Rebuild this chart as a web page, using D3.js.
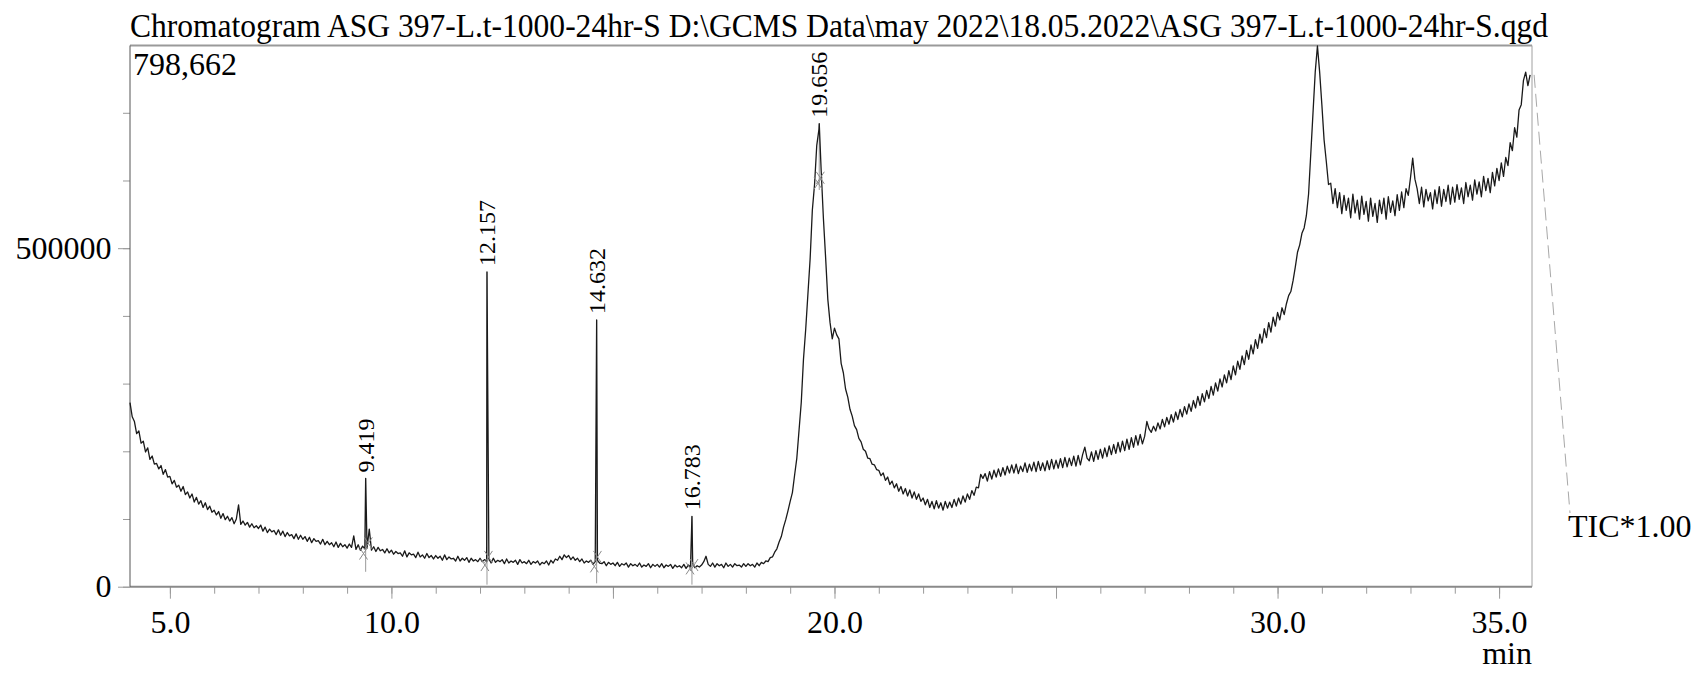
<!DOCTYPE html>
<html>
<head>
<meta charset="utf-8">
<script src="https://cdn.jsdelivr.net/npm/d3@7"></script>
<style>
  html, body { margin: 0; background: #fff; }
  svg { display: block; }
  text { font-family: "Liberation Serif", "Times New Roman", serif; fill: #000; }
</style>
</head>
<body>
<svg id="chart" width="1698" height="675"></svg>
<script>
// ---- Run information ----
const titleText = "Chromatogram ASG 397-L.t-1000-24hr-S D:\\GCMS Data\\may 2022\\18.05.2022\\ASG 397-L.t-1000-24hr-S.qgd";
const traceName = "TIC*1.00";
const xUnit = "min";

// ---- TIC trace: one reading per scan, in kilocounts ----
const scanStart = 4.10;   // min, first scan
const scanStep = 0.05;    // min between scans
const tic = [
  // 4.10 - 4.95
  272,251,244,226,230,212,215,199,205,188,193,181,182,174,179,166,173,162,
  // 5
  163,152,157,147,150,141,148,136,140,131,137,125,132,122,127,117,124,114,119,110,
  // 6
  113,106,111,101,108,99,104,97,102,93,100,121,92,97,91,95,88,93,87,90,
  // 7
  86,91,82,88,80,85,81,83,77,84,76,82,74,80,75,77,71,78,70,76,
  // 8
  70,74,67,73,65,71,67,68,63,70,62,67,62,65,59,66,58,64,59,62,
  // 9
  57,63,58,75,55,62,54,60,56,57,85,54,59,52,58,53,55,50,56,50,
  // 10
  54,48,52,49,50,45,53,44,50,47,48,43,51,44,47,42,49,43,46,41,
  // 11
  46,42,45,39,47,40,44,41,42,38,45,38,42,39,43,36,42,38,40,37,
  // 12
  42,37,40,38,41,35,42,36,39,37,40,34,41,35,38,36,39,33,40,35,
  // 13
  37,34,39,33,37,35,38,32,36,34,38,32,39,35,41,39,45,40,47,43,
  // 14
  46,40,44,39,42,37,41,35,38,36,39,33,37,39,35,34,37,31,36,33,
  // 15
  35,31,36,30,34,32,35,29,34,31,33,30,35,29,32,30,34,28,33,30,
  // 16
  33,29,34,28,32,30,33,27,32,29,31,28,33,27,32,29,33,28,31,29,
  // 17
  32,37,45,33,30,35,29,34,31,33,28,35,30,33,29,34,31,32,29,34,
  // 18
  30,34,31,33,29,35,31,36,34,38,37,43,44,51,56,66,74,88,99,112,
  // 19
  126,139,165,190,231,272,336,380,432,484,556,594,652,676,614,544,486,424,390,366,
  // 20
  382,372,366,330,316,292,280,262,252,238,232,219,214,203,200,190,189,181,180,173,
  // 21
  172,164,168,157,162,151,156,146,152,141,148,137,145,134,143,131,140,129,137,126,
  // 22
  131,121,129,117,126,115,127,116,124,113,126,116,125,117,129,119,131,122,134,125,
  // 23
  137,129,142,135,147,146,166,160,167,156,170,159,172,162,174,163,176,165,178,168,
  // 24
  180,168,181,167,178,170,183,169,181,171,184,170,185,172,183,171,186,173,188,174,
  // 25
  187,175,189,176,191,177,190,179,193,178,194,180,195,206,190,186,199,185,201,188,
  // 26
  203,190,205,192,208,195,210,197,213,199,215,201,218,203,220,206,223,209,225,211,
  // 27
  222,244,233,228,237,230,242,233,247,236,250,240,254,243,258,247,262,251,266,255,
  // 28
  270,259,275,264,281,268,285,273,290,278,296,283,301,289,307,295,313,301,319,306,
  // 29
  326,313,333,321,341,328,349,336,357,344,365,352,373,360,381,368,390,376,398,385,
  // 30
  405,394,412,402,418,430,436,452,472,494,505,522,530,548,580,640,700,760,798.662,760,
  // 31
  712,660,628,594,596,566,588,560,582,551,578,556,574,545,580,552,571,543,577,550,
  // 32
  569,540,574,547,566,538,571,551,574,543,576,553,570,548,579,556,583,560,588,578,
  // 33
  604,633,602,588,566,590,561,587,570,582,558,586,566,591,562,587,569,593,565,590,
  // 34
  568,594,572,589,566,597,576,593,571,601,580,598,576,606,585,603,582,612,592,618,
  // 35.00 - 35.70
  600,626,606,634,622,656,644,678,664,704,712,748,760,740,756
];

// ---- Identified peaks ----
const peakTimes = [9.419, 12.157, 14.632, 16.783, 19.656];   // min
const peakApex  = [160, 465, 394, 104, 684];                  // kilocounts
const peakDropTo = [22, 3, 5, 3, 586];                        // lower end of marker line, kilocounts
// integration start / end marks
const markStartT = [9.37, 12.11, 14.58, 16.74, 19.63];
const markStartV = [49, 32, 30, 27, 596];
const markEndT   = [9.48, 12.19, 14.65, 16.83, 19.68];
const markEndV   = [64, 44, 44, 32, 604];

// ---- Axis ticks ----
const xMinorTicks = d3.range(5, 36, 1);
const xMajorTicks = [5, 10, 15, 20, 25, 30, 35];
const xTickLabels = [5, 10, 20, 30, 35];
const yMinorTicks = [0, 100000, 200000, 300000, 400000, 500000, 600000, 700000];
const yTickLabels = [0, 500000];
const timeRange = [4.1, 35.72];

// ---- Build trace points (scans plus peak apexes) ----
const points = tic.map((v, i) => ({ t: scanStart + i * scanStep, v: v * 1000 }));
peakTimes.forEach((t, i) => points.push({ t, v: peakApex[i] * 1000 }));
points.sort((a, b) => a.t - b.t);
const maxCount = d3.max(points, d => d.v);

// ---- Layout ----
const svg = d3.select("#chart");
const plotL = 130, plotR = 1531, plotT = 45.5, plotB = 586.7;

const x = d3.scaleLinear().domain(timeRange).range([plotL, plotR]);
const y = d3.scaleLinear().domain([0, maxCount]).range([plotB, plotT + 0.5]);

// Title
svg.append("text")
  .attr("x", 130).attr("y", 37)
  .attr("font-size", 33)
  .attr("textLength", 1418).attr("lengthAdjust", "spacingAndGlyphs")
  .text(titleText);

// Frame: top and right in light grey
svg.append("line").attr("x1", plotL).attr("x2", plotR + 1).attr("y1", plotT).attr("y2", plotT)
  .attr("stroke", "#9a9a9a").attr("stroke-width", 2);
svg.append("line").attr("x1", plotR + 1).attr("x2", plotR + 1).attr("y1", plotT).attr("y2", plotB)
  .attr("stroke", "#a0a0a0").attr("stroke-width", 1);

// X axis: minor ticks, major ticks with labels
const gx = svg.append("g").attr("transform", `translate(0,${plotB})`);
gx.append("g")
  .call(d3.axisBottom(x).tickValues(xMinorTicks).tickSize(7).tickFormat(""))
  .call(g => g.select(".domain").remove());
gx.append("g")
  .call(d3.axisBottom(x).tickValues(xMajorTicks).tickSize(12).tickPadding(11.5)
    .tickFormat(d => xTickLabels.includes(d) ? d3.format(".1f")(d) : ""))
  .call(g => g.select(".domain").remove());
gx.selectAll(".tick line").attr("stroke", "#9a9a9a").attr("stroke-width", 1);
gx.selectAll(".tick text")
  .attr("font-family", "Liberation Serif, serif").attr("font-size", 32).attr("fill", "#000");
svg.append("line").attr("x1", plotL).attr("x2", plotR + 1).attr("y1", plotB).attr("y2", plotB)
  .attr("stroke", "#8a8a8a").attr("stroke-width", 2);

// Y axis
const gy = svg.append("g").attr("transform", `translate(${plotL},0)`);
gy.append("g")
  .call(d3.axisLeft(y).tickValues(yMinorTicks).tickSize(7).tickFormat(""))
  .call(g => g.select(".domain").remove());
gy.append("g")
  .call(d3.axisLeft(y).tickValues(yTickLabels).tickSize(12).tickPadding(6.5)
    .tickFormat(d3.format("d")))
  .call(g => g.select(".domain").remove());
gy.selectAll(".tick line").attr("stroke", "#9a9a9a").attr("stroke-width", 1);
gy.selectAll(".tick text")
  .attr("font-family", "Liberation Serif, serif").attr("font-size", 32).attr("fill", "#000");
svg.append("line").attr("x1", plotL).attr("x2", plotL).attr("y1", plotT).attr("y2", plotB)
  .attr("stroke", "#555").attr("stroke-width", 1);

// Maximum intensity readout
svg.append("text").attr("x", 133).attr("y", 75).attr("font-size", 32)
  .text(d3.format(",")(Math.round(maxCount)));

// Peak marker lines (behind the trace)
const peaks = peakTimes.map((t, i) => ({
  t, apex: peakApex[i] * 1000, drop: peakDropTo[i] * 1000,
  s: [markStartT[i], markStartV[i] * 1000], e: [markEndT[i], markEndV[i] * 1000]
}));
svg.append("g").selectAll("line").data(peaks).join("line")
  .attr("x1", d => x(d.t)).attr("x2", d => x(d.t))
  .attr("y1", d => y(d.apex)).attr("y2", d => y(d.drop))
  .attr("stroke", "#9a9a9a").attr("stroke-width", 1);

// Trace
const line = d3.line().x(d => x(d.t)).y(d => y(d.v));
svg.append("path").datum(points)
  .attr("d", line)
  .attr("fill", "none")
  .attr("stroke", "#1a1a1a")
  .attr("stroke-width", 1.3)
  .attr("stroke-linejoin", "round");

// Integration start/end marks (small crosses)
const marks = peaks.flatMap(p => [p.s, p.e]);
const mk = svg.append("g").attr("stroke", "#8a8a8a").attr("stroke-width", 1);
marks.forEach(([t, v]) => {
  const cx = x(t), cy = y(v);
  mk.append("line").attr("x1", cx - 4).attr("x2", cx + 4).attr("y1", cy - 6).attr("y2", cy + 6);
  mk.append("line").attr("x1", cx + 4).attr("x2", cx - 4).attr("y1", cy - 6).attr("y2", cy + 6);
});

// Peak retention time labels, rotated
svg.append("g").selectAll("text").data(peaks).join("text")
  .attr("transform", d => `translate(${x(d.t) + 8},${y(d.apex) - 6}) rotate(-90)`)
  .attr("font-size", 24)
  .text(d => d3.format(".3f")(d.t));

// Trace name with dashed leader from the end of the trace
const last = points[points.length - 1];
const labelX = 1568, labelY = 537;
svg.append("line")
  .attr("x1", x(last.t) + 4).attr("y1", y(last.v))
  .attr("x2", labelX + 2).attr("y2", labelY - 24)
  .attr("stroke", "#a8a8a8").attr("stroke-width", 1)
  .attr("stroke-dasharray", "13,6");
svg.append("text").attr("x", labelX).attr("y", labelY).attr("font-size", 32).text(traceName);

// Unit label
svg.append("text").attr("x", plotR + 1).attr("y", 664).attr("text-anchor", "end")
  .attr("font-size", 32).text(xUnit);
</script>
</body>
</html>
